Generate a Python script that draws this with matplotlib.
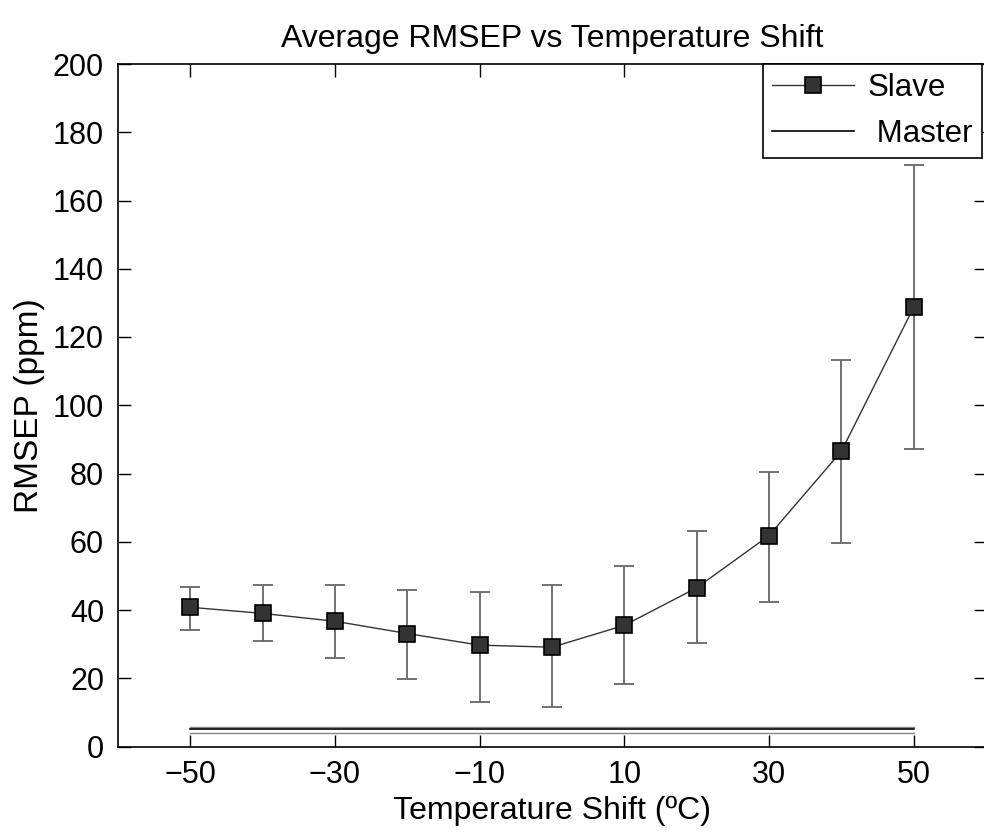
import numpy as np
import matplotlib
matplotlib.use("Agg")
import matplotlib.pyplot as plt

plt.rcParams['font.family'] = ['Liberation Sans', 'DejaVu Sans']

shift = [-50, -40, -30, -20, -10, 0, 10, 20, 30, 40, 50]
slave_mean = [40.8, 39.0, 36.7, 33.1, 29.7, 29.1, 35.5, 46.5, 61.8, 86.5, 128.7]
slave_upper = [46.7, 47.2, 47.2, 46.0, 45.4, 47.2, 53.0, 63.1, 80.5, 113.3, 170.4]
slave_lower = [34.2, 30.8, 26.0, 19.7, 13.1, 11.5, 18.4, 30.2, 42.4, 59.5, 87.1]

master_x = [-50, 50]
master_mean = [5.1, 5.1]
master_upper = [5.6, 5.6]
master_lower = [4.0, 4.0]

xticks = [-50, -30, -10, 10, 30, 50]
yticks = [0, 20, 40, 60, 80, 100, 120, 140, 160, 180, 200]

fig = plt.figure(figsize=(9.84, 8.33), dpi=100)
ax = fig.add_axes([118/984, 1 - 746.5/833, 868/984, (746.5 - 64)/833])

m = np.array(slave_mean)
yerr = [m - np.array(slave_lower), np.array(slave_upper) - m]
ax.errorbar(shift, slave_mean, yerr=yerr, fmt='none', ecolor='#666666',
            elinewidth=1.3, capsize=7, capthick=1.3, zorder=2)
ax.plot(shift, slave_mean, '-', color='#333333', lw=1.0, marker='s',
        markersize=11.5, markerfacecolor='#333333', markeredgecolor='black',
        markeredgewidth=1.2, label='Slave', zorder=3)

ax.plot(master_x, master_upper, '-', color='#888888', lw=1.0, zorder=2)
ax.plot(master_x, master_mean, '-', color='black', lw=1.2, label=' Master', zorder=2)
ax.plot(master_x, master_lower, '-', color='#888888', lw=1.0, zorder=2)

ax.set_xlim(-60, 60)
ax.set_ylim(0, 200)
ax.set_xticks(xticks)
ax.set_yticks(yticks)
ax.tick_params(direction='in', length=9, width=1, top=True, right=True,
               labelsize=22, pad=10)
for s in ax.spines.values():
    s.set_linewidth(1.2)

ax.set_title('Average RMSEP vs Temperature Shift', fontsize=23, pad=12)
ax.set_xlabel('Temperature Shift (ºC)', fontsize=23, labelpad=4)
ax.set_ylabel('RMSEP (ppm)', fontsize=24, labelpad=6)

leg = ax.legend(loc='upper left', bbox_to_anchor=((763 - 118)/868, 1.0),
                borderaxespad=0, fontsize=22.5, frameon=True, fancybox=False,
                edgecolor='black', framealpha=1, handlelength=2.6,
                handletextpad=0.45, labelspacing=0.5, borderpad=0.3)
leg.get_frame().set_linewidth(1.2)
leg.set_clip_on(False)

fig.savefig('out.png', dpi=100)
